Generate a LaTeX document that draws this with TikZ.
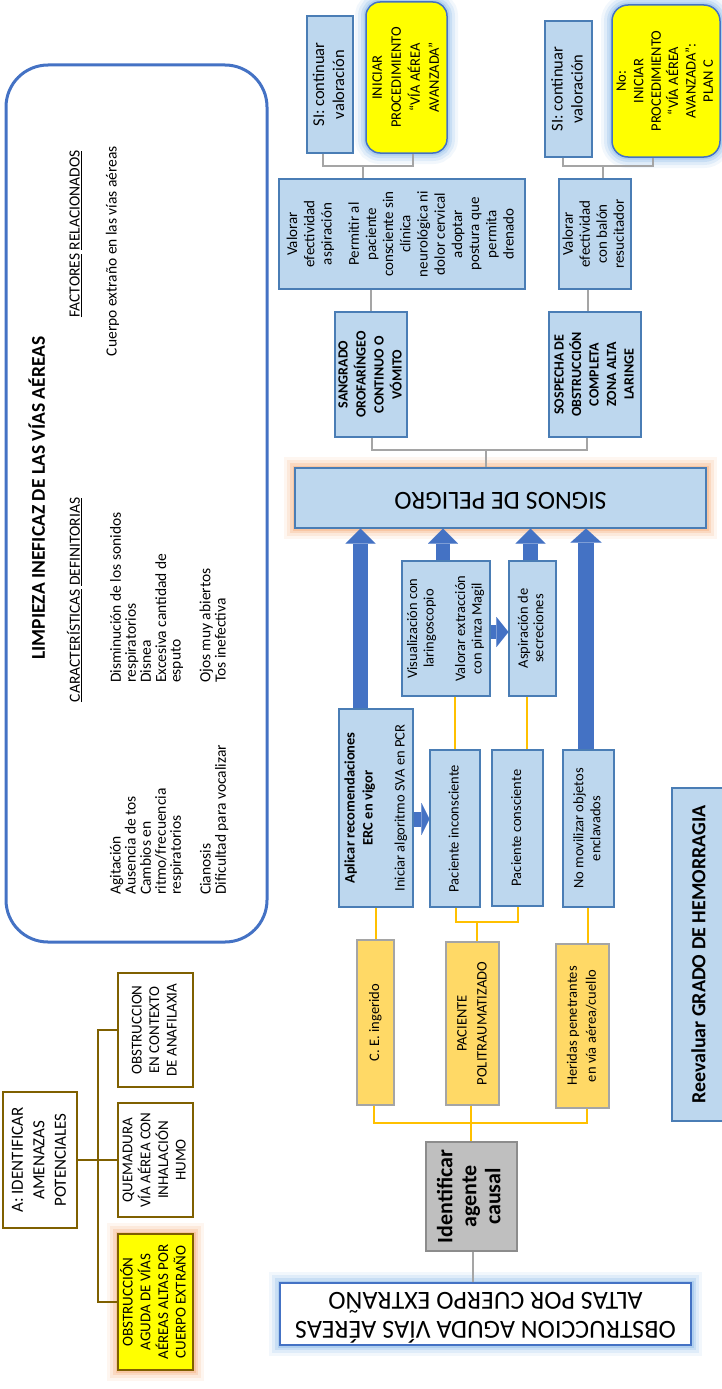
\documentclass[tikz,border=0pt]{standalone}
\usepackage{fontspec}
\usepackage{graphicx}
\setmainfont{Carlito}
\usetikzlibrary{arrows.meta}

\definecolor{boxfill}{HTML}{BDD7EE}
\definecolor{boxline}{HTML}{4A7DB5}
\definecolor{frameblue}{HTML}{4472C4}
\definecolor{arrblue}{HTML}{4472C4}
\definecolor{goldfill}{HTML}{FFD966}
\definecolor{grayline}{HTML}{A5A5A5}
\definecolor{ylw}{HTML}{FFC000}
\definecolor{treeline}{HTML}{7F6000}
\definecolor{idfill}{HTML}{BFBFBF}
\definecolor{idline}{HTML}{8C8C8C}
\definecolor{glowor}{HTML}{F4A46C}
\definecolor{glowbl}{HTML}{7FB2E5}
\definecolor{hiyellow}{HTML}{FFFF00}

% text turned a quarter turn (reads upwards) or a half turn
\newcommand\vtext[2][c]{\rotatebox{90}{\begin{tabular}{@{}#1@{}}#2\end{tabular}}}
\newcommand\utext[1]{\rotatebox{180}{\begin{tabular}{@{}c@{}}#1\end{tabular}}}
\newcommand\fs[2]{\fontsize{#1}{#2}\selectfont}

\tikzset{
  txt/.style={inner sep=0pt},
  frame/.style={draw=frameblue, line width=3pt, rounded corners=42pt, inner sep=0pt},
  bbox/.style={draw=boxline, fill=boxfill, line width=1.2pt, inner sep=0pt, font=\fs{14.5}{17.5}},
  gbox/.style={draw=grayline, fill=goldfill, line width=1.2pt, inner sep=0pt, font=\fs{14.5}{17.5}},
  tbox/.style={draw=treeline, fill=white, line width=1.5pt, inner sep=0pt, font=\fs{15}{17.5}},
  ybox/.style={draw=frameblue, fill=hiyellow, line width=1.5pt, inner sep=0pt},
  idbox/.style={draw=idline, fill=idfill, line width=1.5pt, inner sep=0pt},
  obox/.style={draw=frameblue, fill=white, line width=2pt, inner sep=0pt},
  glow/.style={preaction={draw=#1, line width=22pt, opacity=0.10},
               preaction={draw=#1, line width=16pt, opacity=0.16},
               preaction={draw=#1, line width=10pt, opacity=0.24},
               preaction={draw=#1, line width=5pt, opacity=0.35}},
  gl/.style={draw=grayline, line width=2.2pt},
  yl/.style={draw=ylw, line width=2pt},
  tl/.style={draw=treeline, line width=1.8pt},
  barrow/.style={draw=arrblue, line width=#1},
}

\begin{document}
\begin{tikzpicture}[x=1pt, y=-1pt]
\useasboundingbox (0,0) rectangle (721,1389);

% ---------- diagnosis frame ----------
\node[frame, minimum width=261pt, minimum height=877pt] (limp) at (136.5,503.5) {};
\node[txt, font=\bfseries\fs{19.5}{22}] (ttl) at (40,498) {\vtext{LIMPIEZA INEFICAZ DE LAS VÍAS AÉREAS}};
\node[txt, font=\fs{15.5}{18}] (hcar) at (76,600) {\vtext{\underline{CARACTERÍSTICAS} \underline{DEFINITORIAS}}};
\node[txt, font=\fs{15.5}{18}] (hfac) at (76,234) {\vtext{\underline{FACTORES} \underline{RELACIONADOS}}};
\node[txt, font=\fs{15.5}{18}] (fac) at (113,251) {\vtext{Cuerpo extraño en las vías aéreas}};
\node[txt, font=\fs{15.5}{14.6}, anchor=south] (colA) at (170,895)
  {\vtext[l]{Agitación\\Ausencia de tos\\Cambios en\\ritmo/frecuencia\\respiratorios\\ \\Cianosis\\Dificultad para vocalizar}};
\node[txt, font=\fs{15.5}{14.6}, anchor=south] (colB) at (170,683)
  {\vtext[l]{Disminución de los sonidos\\respiratorios\\Disnea\\Excesiva cantidad de\\esputo\\ \\Ojos muy abiertos\\Tos inefectiva}};

% ---------- potential threats tree ----------
\node[tbox, font=\fs{17}{21.5}, minimum width=74pt, minimum height=136pt] (aid) at (40,1160)
  {\vtext{A: IDENTIFICAR\\AMENAZAS\\POTENCIALES}};
\node[tbox, minimum width=75pt, minimum height=114pt] (ana) at (155.5,1030)
  {\vtext{OBSTRUCCION\\EN CONTEXTO\\DE ANAFILAXIA}};
\node[tbox, minimum width=75pt, minimum height=114pt] (que) at (155.5,1160)
  {\vtext{QUEMADURA\\VÍA AÉREA CON\\INHALACIÓN\\HUMO}};
\node[tbox, fill=hiyellow, glow=glowor, minimum width=75pt, minimum height=136pt] (oba) at (155.5,1302)
  {\vtext{OBSTRUCCIÓN\\AGUDA DE VÍAS\\AÉREAS ALTAS POR\\CUERPO EXTRAÑO}};
\coordinate (tj) at (98,1160);
\draw[tl] (aid.east) -- (que.west);
\draw[tl] (ana.west) -| (tj) |- (oba.west);

% ---------- danger signs branch ----------
\node[bbox, font=\fs{16.5}{20}, minimum width=46pt, minimum height=137pt] (si1) at (330,84.5)
  {\vtext{SI: continuar\\valoración}};
\node[ybox, glow=glowbl, rounded corners=14pt, font=\fs{14.5}{19}, minimum width=81pt, minimum height=151pt] (av1) at (406.5,77.5)
  {\vtext{INICIAR\\PROCEDIMIENTO\\“VÍA AÉREA\\AVANZADA”}};
\node[bbox, font=\fs{15}{17.2}, minimum width=246pt, minimum height=110pt] (val1) at (402,234)
  {\vtext{Valorar\\efectividad\\aspiración\\[10pt]Permitir al\\paciente\\consciente sin\\clínica\\neurológica ni\\dolor cervical\\adoptar\\postura que\\permita\\drenado}};
\node[bbox, font=\bfseries\fs{14}{18}, minimum width=72pt, minimum height=125pt] (sang) at (371,374.5)
  {\vtext{SANGRADO\\OROFARÍNGEO\\CONTINUO O\\VÓMITO}};

\node[bbox, font=\fs{16.5}{20}, minimum width=47pt, minimum height=136pt] (si2) at (568.5,89)
  {\vtext{SI: continuar\\valoración}};
\node[ybox, glow=glowbl, rounded corners=16pt, font=\fs{14.5}{17.4}, minimum width=108pt, minimum height=152pt] (av2) at (666,81)
  {\vtext{No:\\INICIAR\\PROCEDIMIENTO\\“VÍA AÉREA\\AVANZADA”:\\PLAN C}};
\node[bbox, font=\fs{15}{17}, minimum width=72pt, minimum height=110pt] (val2) at (595,234)
  {\vtext{Valorar\\efectividad\\con balón\\resucitador}};
\node[bbox, font=\bfseries\fs{14}{17.5}, minimum width=92pt, minimum height=125pt] (sosp) at (595,374.5)
  {\vtext{SOSPECHA DE\\OBSTRUCCIÓN\\COMPLETA\\ZONA ALTA\\LARINGE}};

\node[bbox, glow=glowor, font=\fs{26}{28}, minimum width=411pt, minimum height=60pt] (sig) at (500.5,498)
  {\utext{SIGNOS DE PELIGRO}};

% gray joins above the danger signs
\coordinate (j1a) at (323,166); \coordinate (j1b) at (413,166); \coordinate (j1) at (363,166);
\draw[gl] (si1.south -| j1a) -- (j1a) -- (j1b) -- (av1.south -| j1b);
\draw[gl] (j1) -- (val1.north -| j1);
\draw[gl] (val1.south -| sang.north) -- (sang.north);
\coordinate (j2a) at (563,166); \coordinate (j2b) at (653,166); \coordinate (j2) at (603,166);
\draw[gl] (si2.south -| j2a) -- (j2a) -- (j2b) -- (av2.south -| j2b);
\draw[gl] (j2) -- (val2.north -| j2);
\coordinate (j3) at (588,300);
\draw[gl] (val2.south -| j3) -- (sosp.north -| j3);
\coordinate (j4a) at (372,450); \coordinate (j4b) at (587,450); \coordinate (j4) at (486,450);
\draw[gl] (sang.south -| j4a) -- (j4a) -- (j4b) -- (sosp.south -| j4b);
\draw[gl] (j4) -- (sig.north -| j4);

% ---------- actions ----------
\node[bbox, font=\fs{14.5}{18}, minimum width=74pt, minimum height=198pt] (apl) at (376,808)
  {\vtext{\textbf{Aplicar recomendaciones}\\\textbf{ERC en vigor}\\[14pt]Iniciar algoritmo SVA en PCR}};
\node[bbox, font=\fs{14.5}{16.5}, minimum width=88pt, minimum height=135pt] (vis) at (446,628.5)
  {\vtext{Visualización con\\laringoscopio\\[15pt]Valorar extracción\\con pinza Magil}};
\node[bbox, minimum width=50pt, minimum height=157pt] (pin) at (455,828.5)
  {\vtext{Paciente inconsciente}};
\node[bbox, minimum width=51pt, minimum height=156pt] (pco) at (517.5,828)
  {\vtext{Paciente consciente}};
\node[bbox, font=\fs{14.5}{15.5}, minimum width=47pt, minimum height=135pt] (asp) at (532.5,628.5)
  {\vtext{Aspiración de\\secreciones}};
\node[bbox, font=\fs{14.5}{17}, minimum width=51pt, minimum height=157pt] (nom) at (588.5,828.5)
  {\vtext{No movilizar objetos\\enclavados}};
\node[bbox, font=\bfseries\fs{20}{22}, minimum width=58pt, minimum height=333pt] (ree) at (701,954.5)
  {\vtext{Reevaluar GRADO DE HEMORRAGIA}};

% ---------- causal agents ----------
\node[gbox, minimum width=37pt, minimum height=165pt] (ce) at (375.5,1022.5)
  {\vtext{C. E. ingerido}};
\node[gbox, font=\fs{14.5}{20}, minimum width=53pt, minimum height=163pt] (pac) at (472.5,1023.5)
  {\vtext{PACIENTE\\POLITRAUMATIZADO}};
\node[gbox, font=\fs{14.5}{19}, minimum width=53pt, minimum height=164pt] (her) at (582.5,1026)
  {\vtext{Heridas penetrantes\\en vía aérea/cuello}};
\node[idbox, font=\bfseries\fs{22}{24}, minimum width=91pt, minimum height=109pt] (ida) at (471.5,1196.5)
  {\vtext{Identificar\\agente\\causal}};
\node[obox, glow=glowbl, font=\fs{26}{28}, minimum width=411pt, minimum height=62pt] (obs) at (485.5,1314)
  {\utext{OBSTRUCCION AGUDA VÍAS AÉREAS\\ALTAS POR CUERPO EXTRAÑO}};

% yellow joins
\draw[yl] (ce.north) -- (apl.south -| ce.north);
\draw[yl] (vis.south -| pin.north) -- (pin.north);
\coordinate (k1) at (527,720);
\draw[yl] (asp.south -| k1) -- (pco.north -| k1);
\coordinate (k2a) at (456,922); \coordinate (k2b) at (518,922); \coordinate (k2) at (477,922);
\draw[yl] (pin.south -| k2a) -- (k2a) -- (k2b) -- (pco.south -| k2b);
\draw[yl] (k2) -- (pac.north -| k2);
\coordinate (k3) at (588,930);
\draw[yl] (nom.south -| k3) -- (her.north -| k3);
\coordinate (k4a) at (374,1123); \coordinate (k4b) at (587,1123); \coordinate (k5) at (471,1123);
\draw[yl] (ce.south -| k4a) -- (k4a) -- (k4b) -- (her.south -| k4b);
\draw[yl] (pac.south -| k5) -- (ida.north -| k5);
\coordinate (k6) at (473,1270);
\draw[gl] (ida.south -| k6) -- (obs.north -| k6);

% block arrows
\coordinate (a1) at (360.5,600); \coordinate (a2) at (443,550);
\coordinate (a3) at (530.5,550); \coordinate (a4) at (586,600);
\coordinate (a5) at (420,819); \coordinate (a6) at (500,632);
\draw[barrow=15pt, -{Triangle[width=30pt,length=15pt,line width=0.01pt]}] (apl.north -| a1) -- (sig.south -| a1);
\draw[barrow=14pt, -{Triangle[width=30pt,length=15pt,line width=0.01pt]}] (vis.north -| a2) -- (sig.south -| a2);
\draw[barrow=15pt, -{Triangle[width=30pt,length=15pt,line width=0.01pt]}] (asp.north -| a3) -- (sig.south -| a3);
\draw[barrow=16pt, -{Triangle[width=31pt,length=14pt,line width=0.01pt]}] (nom.north -| a4) -- (sig.south -| a4);
\draw[barrow=15pt, -{Triangle[width=32pt,length=8pt,line width=0.01pt]}] (apl.east |- a5) -- (pin.west |- a5);
\draw[barrow=14pt, -{Triangle[width=30pt,length=12pt,line width=0.01pt]}] (vis.east |- a6) -- (asp.west |- a6);
\end{tikzpicture}
\end{document}
